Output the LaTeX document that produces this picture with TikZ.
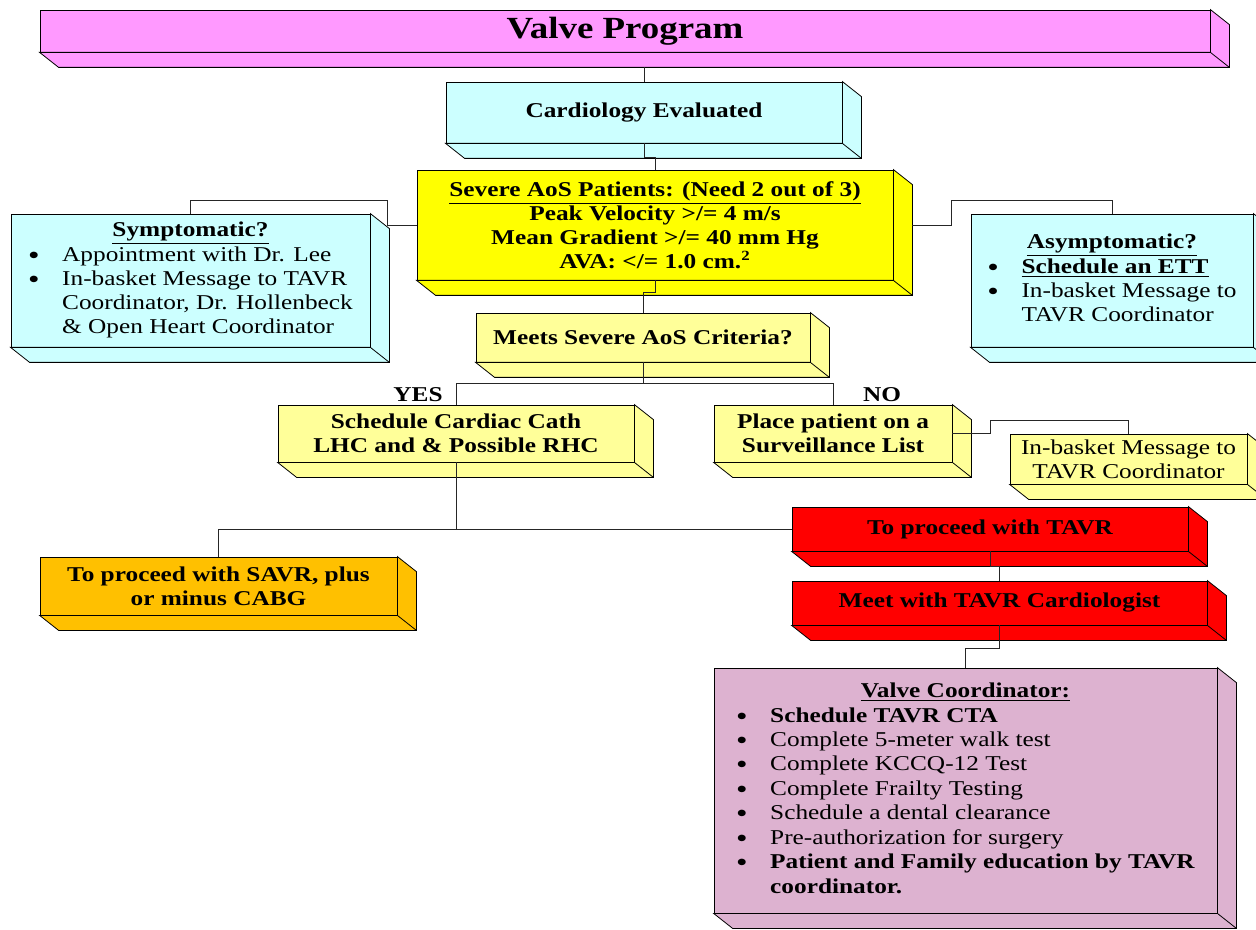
\documentclass[tikz,border=0pt]{standalone}
\usepackage{fontspec}
\setmainfont[FakeStretch=1.2]{Liberation Serif}
\usetikzlibrary{positioning, calc}
\definecolor{vpink}{RGB}{255,153,255}
\definecolor{vcyan}{RGB}{204,255,255}
\definecolor{vyellow}{RGB}{255,255,0}
\definecolor{vlight}{RGB}{255,255,153}
\definecolor{vred}{RGB}{255,0,0}
\definecolor{vorange}{RGB}{255,192,0}
\definecolor{vmauve}{RGB}{221,178,208}
\newcommand{\dotmark}{\smash{\raisebox{-0.3ex}{\scalebox{1.3}{\textbullet}}}}

\begin{document}
\begin{tikzpicture}[
    box/.style={draw, fill=#1, line width=0.45pt, align=center, inner sep=2pt,
                font=\fontsize{12}{13.7}\selectfont\bfseries},
    box/.default={vlight},
    listbox/.style={box=#1, font=\fontsize{12}{13.7}\selectfont},
    link/.style={draw=black!85, line width=0.4pt},
    lbl/.style={font=\fontsize{12}{13.7}\selectfont\bfseries}
]
\clip (0,0) rectangle (25.12,-18.6);
\useasboundingbox (0,0) rectangle (25.12,-18.6);

% ---- Top ----
\node[box=vpink, minimum width=23.4cm, minimum height=0.84cm,
      font=\fontsize{17.5}{20}\selectfont\bfseries] (title) at (12.5,-0.62)
      {\raisebox{-0.6ex}{Valve Program}};
\node[box=vcyan, minimum width=7.92cm, minimum height=1.22cm] (card)
      at (12.88,-2.25) {Cardiology Evaluated};
\node[box=vyellow, minimum width=9.52cm, minimum height=2.2cm] (severe)
      at (13.1,-4.5)
      {\underline{Severe AoS Patients: (Need 2 out of 3)}\\
       Peak Velocity >/= 4 m/s\\
       Mean Gradient >/= 40 mm Hg\\
       AVA: </= 1.0 cm.\textsuperscript{2}};

% ---- Side lists ----
\node[listbox=vcyan, minimum width=7.18cm, minimum height=2.66cm] (sympt)
      at (3.81,-5.61)
      {\begin{tabular}{@{}l@{\hspace{0.45cm}}l@{}}
       \multicolumn{2}{c}{\textbf{\underline{Symptomatic?}}}\\
       \dotmark & Appointment with Dr. Lee\\
       \dotmark & In-basket Message to TAVR\\
                & Coordinator, Dr. Hollenbeck\\
                & \& Open Heart Coordinator
       \end{tabular}};
\node[listbox=vcyan, minimum width=5.64cm, minimum height=2.66cm] (asympt)
      at (22.24,-5.61)
      {\begin{tabular}{@{}l@{\hspace{0.45cm}}l@{}}
       \multicolumn{2}{c}{\textbf{\underline{Asymptomatic?}}}\\
       \dotmark & \textbf{\underline{Schedule an ETT}}\\
       \dotmark & In-basket Message to\\
                & TAVR Coordinator
       \end{tabular}};

% ---- Decision ----
\node[box, minimum width=6.68cm, minimum height=0.98cm] (meets)
      at (12.86,-6.75) {Meets Severe AoS Criteria?};
\node[box, minimum width=7.12cm, minimum height=1.14cm] (cath)
      at (9.12,-8.67) {Schedule Cardiac Cath\\LHC and \& Possible RHC};
\node[box, minimum width=4.76cm, minimum height=1.14cm] (place)
      at (16.66,-8.67) {Place patient on a\\Surveillance List};
\node[listbox=vlight, minimum width=4.74cm, minimum height=1.0cm] (inbask)
      at (22.57,-9.18) {In-basket Message to\\TAVR Coordinator};
\node[lbl] (yes) at (8.36,-7.9) {YES};
\node[lbl] (no)  at (17.64,-7.9) {NO};

% ---- Outcomes ----
\node[box=vred, minimum width=7.92cm, minimum height=0.88cm] (tavr)
      at (19.8,-10.58) {To proceed with TAVR};
\node[box=vorange, minimum width=7.14cm, minimum height=1.16cm] (savr)
      at (4.37,-11.72) {To proceed with SAVR, plus\\or minus CABG};
\node[box=vred, minimum width=8.3cm, minimum height=0.88cm] (meet)
      at (19.99,-12.06) {Meet with TAVR Cardiologist};
\node[listbox=vmauve, minimum width=10.06cm, minimum height=4.9cm,
      font=\fontsize{12}{13.9}\selectfont] (coord) at (19.31,-15.81)
      {\begin{tabular}{@{}l@{\hspace{0.45cm}}l@{}}
       \multicolumn{2}{c}{\textbf{\underline{Valve Coordinator:}}}\\
       \dotmark & \textbf{Schedule TAVR CTA}\\
       \dotmark & Complete 5-meter walk test\\
       \dotmark & Complete KCCQ-12 Test\\
       \dotmark & Complete Frailty Testing\\
       \dotmark & Schedule a dental clearance\\
       \dotmark & Pre-authorization for surgery\\
       \dotmark & \textbf{Patient and Family education by TAVR}\\
                & \textbf{coordinator.}
       \end{tabular}};

% ---- 3D depth of every box ----
\foreach \n/\c in {title/vpink, card/vcyan, severe/vyellow, sympt/vcyan,
                   asympt/vcyan, meets/vlight, cath/vlight, place/vlight,
                   inbask/vlight, tavr/vred, savr/vorange, meet/vred,
                   coord/vmauve}{
  \draw[fill=\c, line width=0.45pt] (\n.north east) -- ++(0.38,-0.3)
        -- ($(\n.south east)+(0.38,-0.3)$) -- ($(\n.south west)+(0.38,-0.3)$)
        -- (\n.south west) -- (\n.south east) -- cycle;
  \draw[line width=0.45pt] (\n.south east) -- ++(0.38,-0.3);
}

% ---- Connectors ----
\draw[link] ([yshift=-0.3cm]title.south -| card.north) -- (card.north);
\draw[link] (card.south) -- ++(0,-0.28) -| (severe.north);
\draw[link] (severe.west) -- ++(-0.58,0) -- ++(0,0.5) -| (sympt.north);
\draw[link] ([xshift=0.38cm]severe.east) -- ++(0.78,0) -- ++(0,0.5)
      -| (asympt.north);
\draw[link] (severe.south) -- ++(0,-0.24) -| (meets.north);
\draw[link] (meets.south) -- ++(0,-0.42) coordinate (split);
\draw[link] (cath.north) |- (split) -| (place.north);
\draw[link] (place.east) -- ++(0.76,0) -- ++(0,0.26) -| (inbask.north);
\draw[link] (cath.south) |- (tavr.west);
\draw[link] (cath.south |- tavr.west) -| (savr.north);
\draw[link] (tavr.south) -- ++(0,-0.3) -| (meet.north);
\draw[link] (meet.south) -- ++(0,-0.46) -| (coord.north);

\end{tikzpicture}
\end{document}
